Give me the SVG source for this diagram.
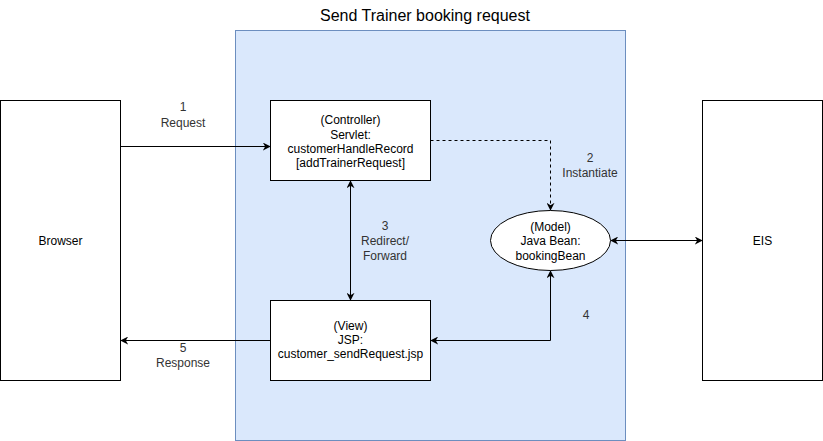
<svg xmlns="http://www.w3.org/2000/svg" width="823" height="441" viewBox="0 0 823 441">
<defs>
<style>
text{font-family:"Liberation Sans",Arial,sans-serif;font-size:12px;fill:#000;text-anchor:middle}
.lbl{fill:#333}
.box{fill:#fff;stroke:#000;stroke-width:1}
.ln{fill:none;stroke:#000;stroke-width:1}
</style>
<marker id="ah" viewBox="0 0 10 10" refX="9" refY="5" markerWidth="8" markerHeight="8" orient="auto-start-reverse" markerUnits="userSpaceOnUse">
<path d="M0,0 L10,5 L0,10 L3,5 Z" fill="#000"/>
</marker>
</defs>
<rect width="823" height="441" fill="#fff"/>
<g id="container">
<rect x="235.5" y="30.5" width="390" height="410" fill="#dae8fc" stroke="#6c8ebf"/>
<text x="425" y="21" style="font-size:16px">Send Trainer booking request</text>
</g>
<g id="browser">
<rect class="box" x="0.5" y="100.5" width="120" height="280"/>
<text x="60.5" y="245">Browser</text>
</g>
<g id="eis">
<rect class="box" x="702.5" y="100.5" width="120" height="280"/>
<text x="762.5" y="245">EIS</text>
</g>
<g id="controller">
<rect class="box" x="270.5" y="100.5" width="160" height="80"/>
<text x="350.5" y="124">(Controller)</text>
<text x="350.5" y="139">Servlet:</text>
<text x="350.5" y="153">customerHandleRecord</text>
<text x="350.5" y="167">[addTrainerRequest]</text>
</g>
<g id="view">
<rect class="box" x="270.5" y="300.5" width="160" height="80"/>
<text x="350.5" y="330">(View)</text>
<text x="350.5" y="344">JSP:</text>
<text x="350.5" y="358">customer_sendRequest.jsp</text>
</g>
<g id="model">
<ellipse class="box" cx="550.5" cy="240.5" rx="60" ry="30"/>
<text x="550.5" y="231">(Model)</text>
<text x="550.5" y="245">Java Bean:</text>
<text x="550.5" y="260">bookingBean</text>
</g>
<g id="connectors">
<path class="ln" d="M120.5,146.5 H270" marker-end="url(#ah)"/>
<path class="ln" d="M430.5,140.5 H550.5 V210" stroke-dasharray="3,3" marker-end="url(#ah)"/>
<path class="ln" d="M350.5,181 V300" marker-start="url(#ah)" marker-end="url(#ah)"/>
<path class="ln" d="M431,340.5 H550.5 V271" marker-start="url(#ah)" marker-end="url(#ah)"/>
<path class="ln" d="M270.5,340.5 H121" marker-end="url(#ah)"/>
<path class="ln" d="M611,240.5 H702" marker-start="url(#ah)" marker-end="url(#ah)"/>
<text class="lbl" x="183" y="111">1</text>
<text class="lbl" x="183" y="127">Request</text>
<text class="lbl" x="590" y="162">2</text>
<text class="lbl" x="590" y="177">Instantiate</text>
<text class="lbl" x="385" y="230">3</text>
<text class="lbl" x="385" y="245">Redirect/</text>
<text class="lbl" x="385" y="260">Forward</text>
<text class="lbl" x="586" y="319">4</text>
<text class="lbl" x="183" y="352">5</text>
<text class="lbl" x="183" y="367">Response</text>
</g>
</svg>
